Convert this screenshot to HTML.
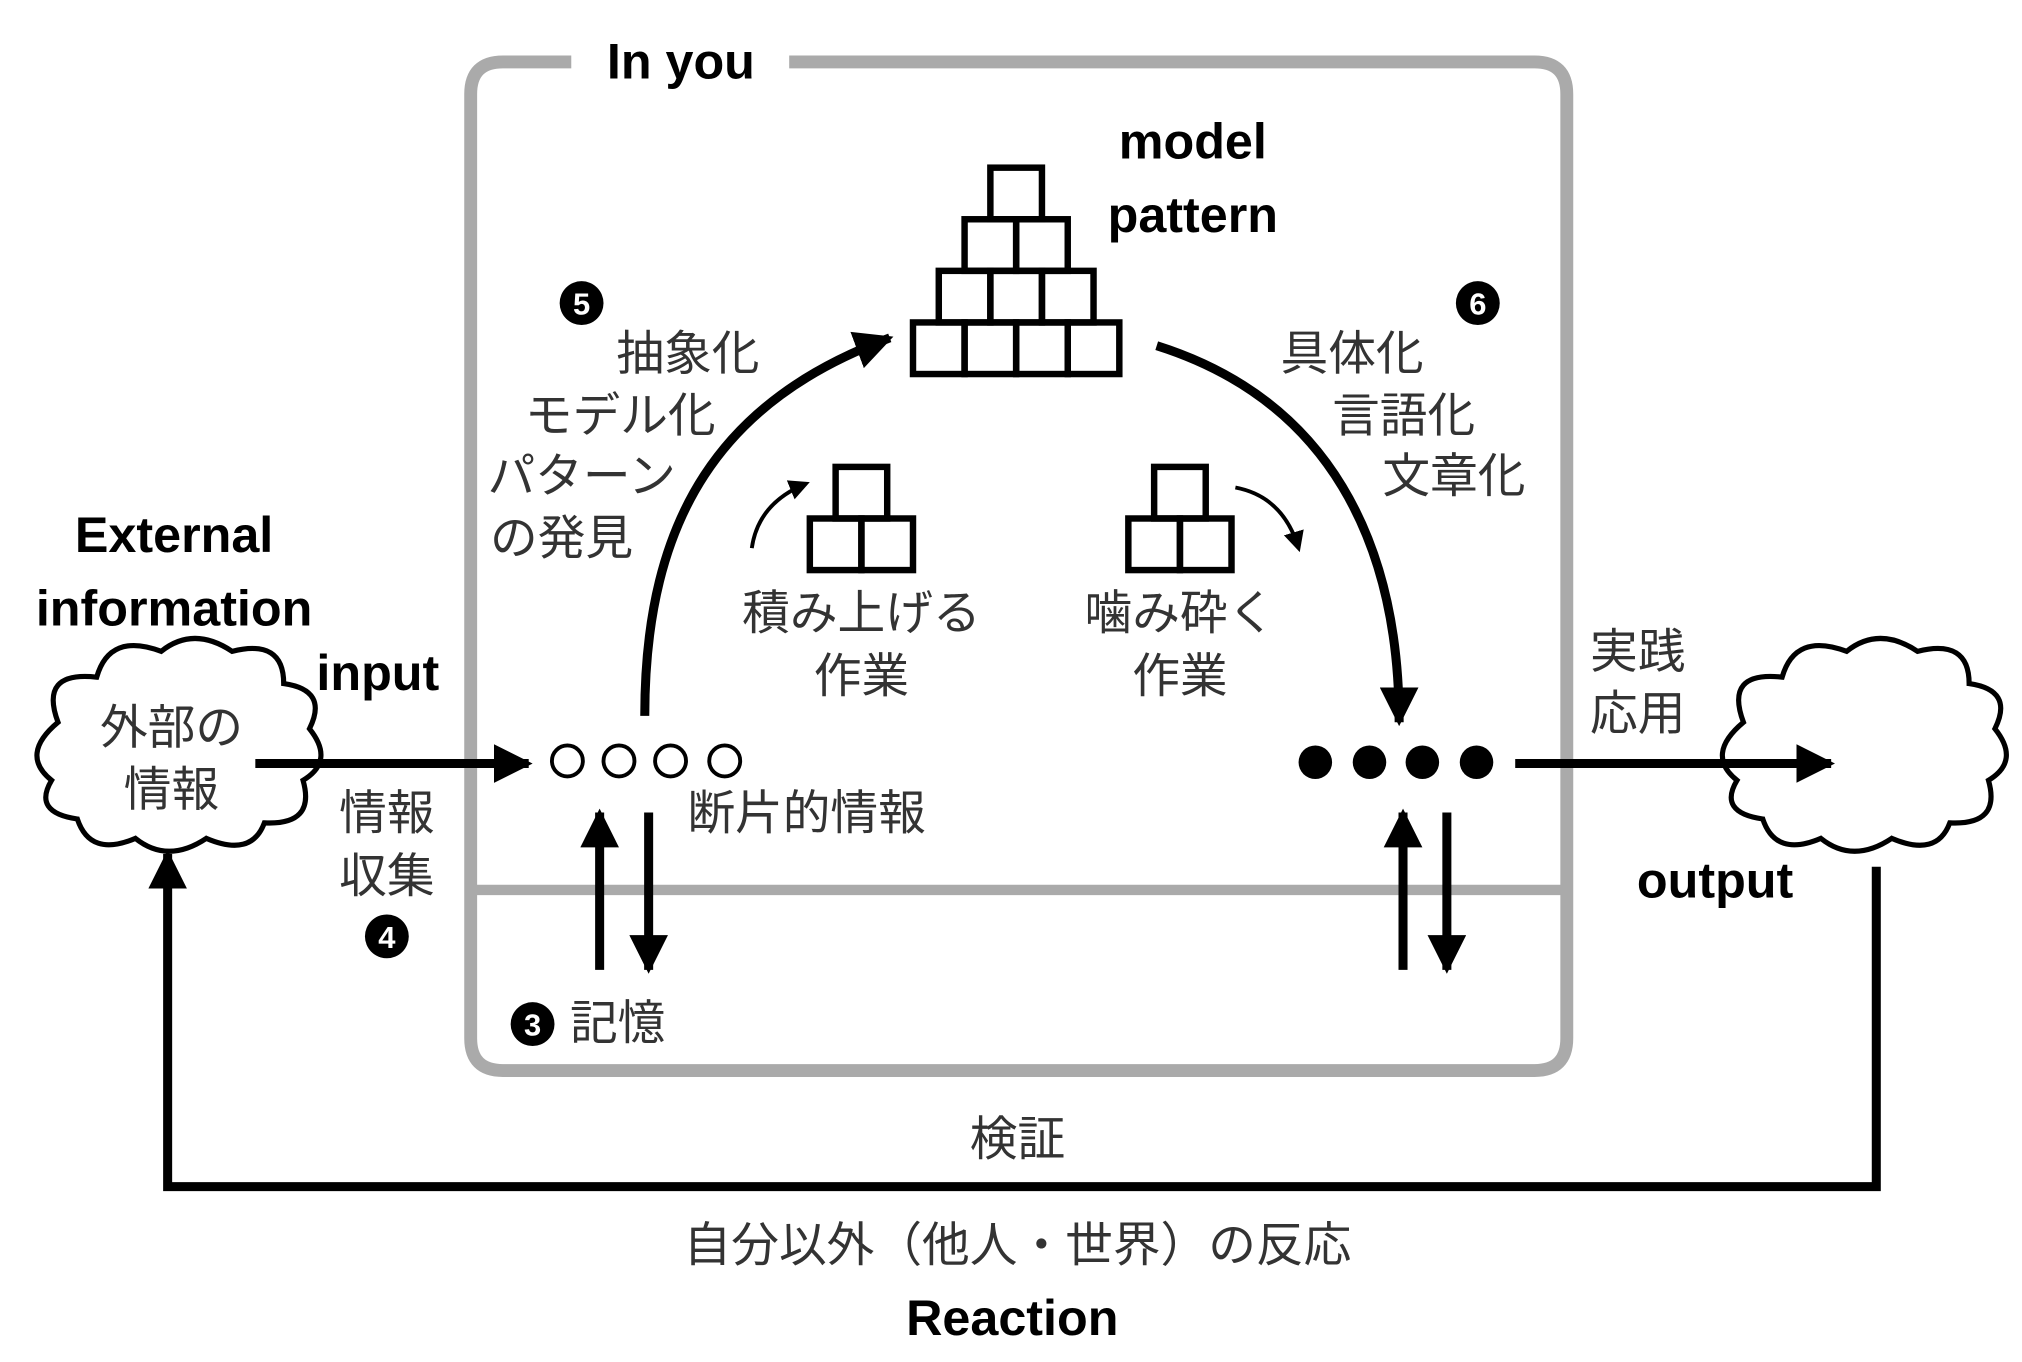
<!DOCTYPE html>
<html><head><meta charset="utf-8"><style>
html,body{margin:0;padding:0;background:#fff;}
svg{display:block}
.j{font-family:"Liberation Sans","Noto Sans CJK JP",sans-serif;font-size:37px;fill:#333;}
.e{font-family:"Liberation Sans","Noto Sans CJK JP",sans-serif;font-size:39px;fill:#000;font-weight:bold;}
.n{font-family:"Liberation Sans",sans-serif;font-size:24px;fill:#fff;font-weight:bold;text-anchor:middle;}
</style></head><body>
<svg width="2022" height="1362" viewBox="0 0 1568 1056" preserveAspectRatio="none" xmlns="http://www.w3.org/2000/svg">
<defs>
<marker id="ah" viewBox="0 0 10 10" refX="8" refY="5" markerWidth="16" markerHeight="16" orient="auto" markerUnits="userSpaceOnUse"><path d="M0,0 L10,5 L0,10 z" fill="#000"/></marker>
<marker id="big" viewBox="0 0 10 10" refX="9" refY="5" markerWidth="30" markerHeight="30" markerUnits="userSpaceOnUse" orient="auto"><path d="M0,0 L10,5 L0,10 z" fill="#000"/></marker>
</defs>
<path d="M443,48 H390 Q365,48 365,73 V805 Q365,830 390,830 H1190 Q1215,830 1215,805 V73 Q1215,48 1190,48 H612" fill="none" stroke="#aaa" stroke-width="10"/>
<line x1="365" y1="690" x2="1215" y2="690" stroke="#aaa" stroke-width="8"/>
<text x="528" y="61" class="e" text-anchor="middle">In you</text>
<g fill="none" stroke="#000" stroke-width="5">
<rect x="768" y="130" width="40" height="40"/>
<rect x="748" y="170" width="40" height="40"/><rect x="788" y="170" width="40" height="40"/>
<rect x="728" y="210" width="40" height="40"/><rect x="768" y="210" width="40" height="40"/><rect x="808" y="210" width="40" height="40"/>
<rect x="708" y="250" width="40" height="40"/><rect x="748" y="250" width="40" height="40"/><rect x="788" y="250" width="40" height="40"/><rect x="828" y="250" width="40" height="40"/>
<rect x="648" y="362" width="40" height="40"/><rect x="628" y="402" width="40" height="40"/><rect x="668" y="402" width="40" height="40"/>
<rect x="895" y="362" width="40" height="40"/><rect x="875" y="402" width="40" height="40"/><rect x="915" y="402" width="40" height="40"/>
</g>
<text x="925" y="123" class="e" text-anchor="middle">model</text>
<text x="925" y="180" class="e" text-anchor="middle">pattern</text>
<g fill="#fff" stroke="#000" stroke-width="4">
<path d="M45,560 Q30,520 75,525 Q85,490 125,505 Q150,485 180,505 Q220,495 220,530 Q255,535 240,565 Q260,590 235,605 Q245,640 205,638 Q195,665 160,650 Q130,670 105,650 Q70,665 60,635 Q25,630 40,605 Q15,585 45,560 Z"/>
<path d="M1352,560 Q1337,520 1382,525 Q1392,490 1432,505 Q1457,485 1487,505 Q1527,495 1527,530 Q1562,535 1547,565 Q1567,590 1542,605 Q1552,640 1512,638 Q1502,665 1467,650 Q1437,670 1412,650 Q1377,665 1367,635 Q1332,630 1347,605 Q1322,585 1352,560 Z"/>
</g>
<text x="133" y="577" class="j" text-anchor="middle">外部の</text>
<text x="133" y="625" class="j" text-anchor="middle">情報</text>
<g stroke="#000" stroke-width="7" fill="none">
<line x1="198" y1="592" x2="410" y2="592" marker-end="url(#big)"/>
<line x1="1175" y1="592" x2="1420" y2="592" marker-end="url(#big)"/>
<path d="M1455,672 V920 H130 V662" marker-end="url(#big)"/>
<path d="M500,555 C500,400 560,310 690,262" marker-end="url(#big)"/>
<path d="M897,268 C1030,310 1085,420 1085,560" marker-end="url(#big)"/>
<line x1="465" y1="752" x2="465" y2="630" marker-end="url(#big)"/>
<line x1="503" y1="630" x2="503" y2="752" marker-end="url(#big)"/>
<line x1="1088" y1="752" x2="1088" y2="630" marker-end="url(#big)"/>
<line x1="1122" y1="630" x2="1122" y2="752" marker-end="url(#big)"/>
</g>
<g stroke="#000" stroke-width="3" fill="none">
<path d="M583,425 Q588,390 625,375" marker-end="url(#ah)"/>
<path d="M958,378 Q995,385 1007,425" marker-end="url(#ah)"/>
</g>
<g fill="#fff" stroke="#000" stroke-width="3">
<circle cx="440" cy="590" r="12"/><circle cx="480" cy="590" r="12"/><circle cx="520" cy="590" r="12"/><circle cx="562" cy="590" r="12"/>
</g>
<g fill="#000"><circle cx="1020" cy="591" r="13"/><circle cx="1062" cy="591" r="13"/><circle cx="1103" cy="591" r="13"/><circle cx="1145" cy="591" r="13"/></g>
<g fill="#000"><circle cx="451" cy="235" r="17"/><circle cx="1146" cy="235" r="17"/><circle cx="300" cy="726" r="17"/><circle cx="413" cy="794" r="17"/></g>
<text x="451" y="244" class="n">5</text><text x="1146" y="244" class="n">6</text><text x="300" y="735" class="n">4</text><text x="413" y="803" class="n">3</text>
<text x="478" y="287" class="j">抽象化</text>
<text x="407" y="335" class="j">モデル化</text>
<text x="378" y="382" class="j">パターン</text>
<text x="380" y="430" class="j">の発見</text>
<text x="993" y="287" class="j">具体化</text>
<text x="1033" y="335" class="j">言語化</text>
<text x="1072" y="382" class="j">文章化</text>
<text x="668" y="488" class="j" text-anchor="middle">積み上げる</text>
<text x="668" y="537" class="j" text-anchor="middle">作業</text>
<text x="915" y="488" class="j" text-anchor="middle">噛み砕く</text>
<text x="915" y="537" class="j" text-anchor="middle">作業</text>
<text x="533" y="643" class="j">断片的情報</text>
<text x="263" y="643" class="j">情報</text>
<text x="263" y="692" class="j">収集</text>
<text x="442" y="806" class="j">記憶</text>
<text x="1233" y="518" class="j">実践</text>
<text x="1233" y="566" class="j">応用</text>
<text x="789" y="896" class="j" text-anchor="middle">検証</text>
<text x="789" y="978" class="j" text-anchor="middle">自分以外（他人・世界）の反応</text>
<text x="135" y="428" class="e" text-anchor="middle">External</text>
<text x="135" y="485" class="e" text-anchor="middle">information</text>
<text x="293" y="535" class="e" text-anchor="middle">input</text>
<text x="1330" y="696" class="e" text-anchor="middle">output</text>
<text x="785" y="1035" class="e" text-anchor="middle">Reaction</text>
</svg>
</body></html>
